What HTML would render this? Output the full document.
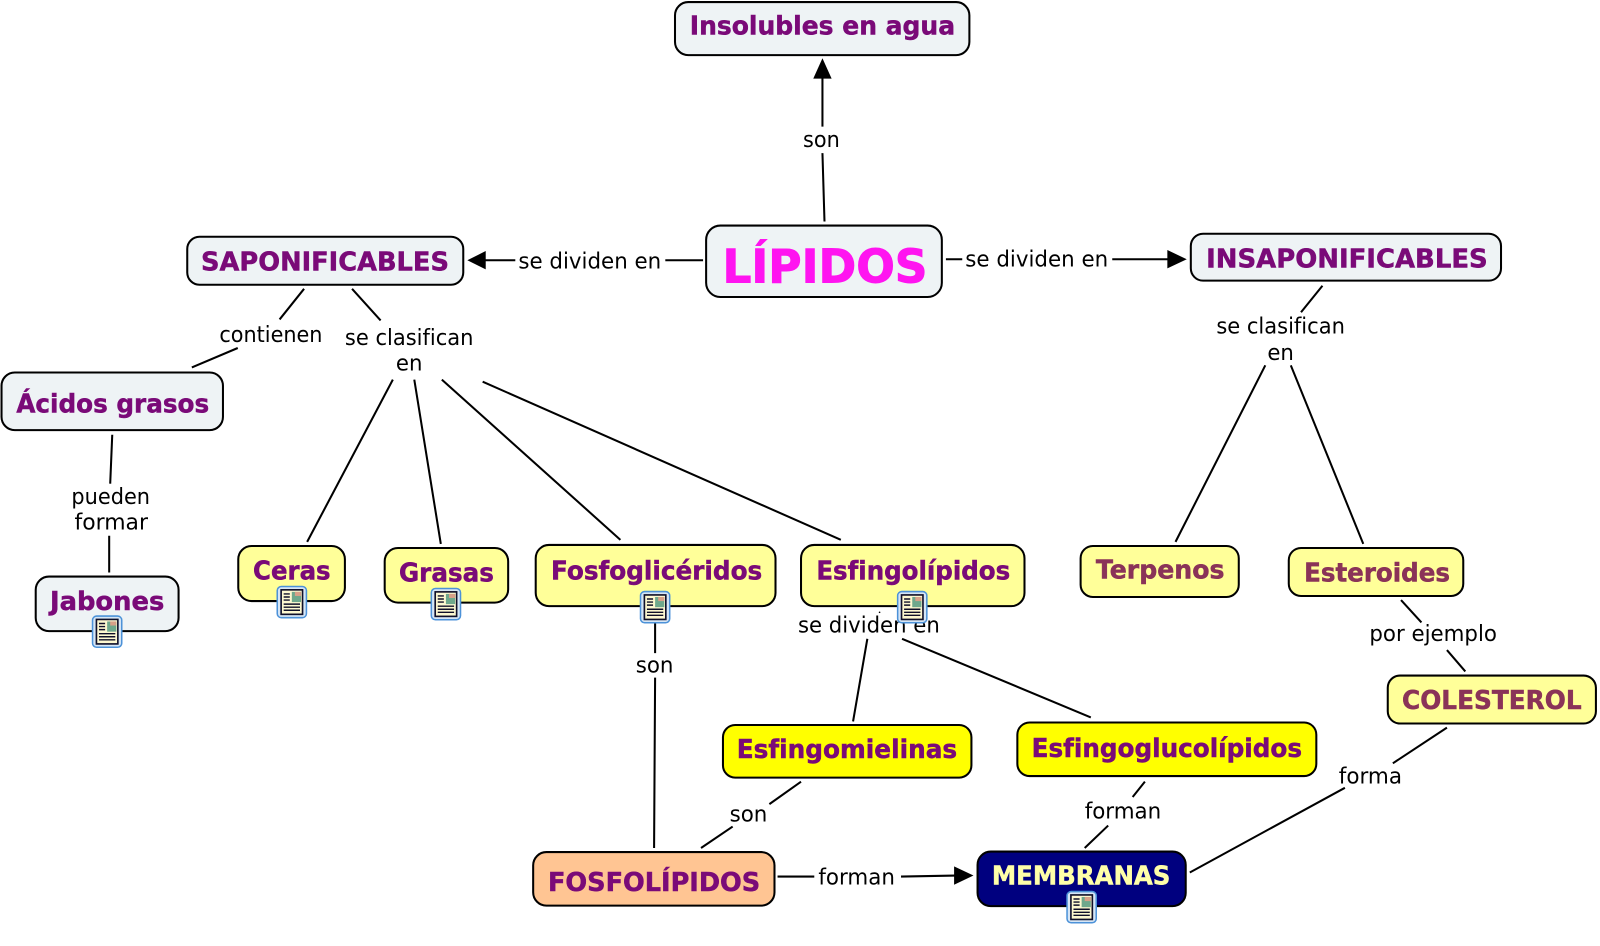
<!DOCTYPE html>
<html><head><meta charset="utf-8"><title>Lípidos</title>
<style>
html,body{margin:0;padding:0;background:#fff;width:1600px;height:946px;overflow:hidden}
svg{display:block}
text{font-variant-ligatures:none}
.n{font-family:"DejaVu Sans",sans-serif;font-weight:bold;fill:#7a0a78;stroke:#7a0a78;stroke-width:.5;font-size:25.5px}
.m{fill:#8a3358;stroke:#8a3358}
.l{font-family:"DejaVu Sans",sans-serif;fill:#000;font-size:21.5px}
.b{stroke:#000;stroke-width:2}
</style></head><body>
<svg width="1600" height="946" viewBox="0 0 1568 927" xmlns="http://www.w3.org/2000/svg">
<defs>
<symbol id="ic" viewBox="0 0 30 32" overflow="visible">
<rect x="0.7" y="0.7" width="28.6" height="30.6" rx="4" fill="#d6e6f6" stroke="#4c92d8" stroke-width="1.5"/>
<rect x="4.5" y="4" width="21" height="24" fill="#fdf8d0" stroke="#10102a" stroke-width="1.6"/>
<rect x="15" y="6" width="9" height="10" fill="#6fa88c"/>
<rect x="18" y="6" width="6" height="4" fill="#d8a088"/>
<path d="M7 8h6M7 11h6M7 14h6M7 18h16M7 21h16M7 24h16" stroke="#10102a" stroke-width="1.4" fill="none"/>
</symbol>
</defs>

<g stroke="#000" stroke-width="2" fill="none">
<path d="M808 217L806 150M806 124L806 76"/>
<path d="M689 255H652M505 255H475"/>
<path d="M927 254H943M1090 254H1146"/>
<path d="M298 283L274 313M345 283L373 314"/>
<path d="M233 341L188 360"/>
<path d="M110 426L108 474M107 525L107 561"/>
<path d="M385 372L301 531M406 372L432 533M433 372L608 529M473 374L824 529"/>
<path d="M1296 280L1275 306M1240 358L1152 531M1265 358L1336 533"/>
<path d="M1373 588L1393 610M1418 637L1436 658"/>
<path d="M1418 713L1365 748M1318 772L1166 855"/>
<path d="M642 610V640M642 664L641 831"/>
<path d="M850 626L836 707M884 626L1069 703"/>
<path d="M785 766L754 788M718 810L687 831"/>
<path d="M1122 766L1110 781M1086 809L1063 831"/>
<path d="M762 859H798M883 859L936 858"/>
</g>
<circle cx="862" cy="600" r="0.8" fill="#000"/>
<g fill="#000">
<path d="M806 57L815 77H797Z"/>
<path d="M458 255L476 246V264Z"/>
<path d="M1163 254L1144 245V263Z"/>
<path d="M954 858L935 849V867Z"/>
</g>

<g class="b">
<rect x="661.5" y="2" width="288.5" height="52" rx="13" fill="#eef3f5"/>
<rect x="692" y="221" width="231" height="70" rx="14" fill="#eef3f5"/>
<rect x="183.500" y="232" width="270.500" height="47" rx="12" fill="#eef3f5"/>
<rect x="1167" y="229" width="304" height="46" rx="12" fill="#eef3f5"/>
<rect x="1.500" y="365" width="217" height="56.500" rx="13" fill="#eef3f5"/>
<rect x="35" y="565" width="140" height="53.500" rx="13" fill="#eef3f5"/>
<rect x="233.500" y="535" width="104.500" height="54" rx="13" fill="#ffff99"/>
<rect x="377" y="537" width="121" height="53.500" rx="13" fill="#ffff99"/>
<rect x="525" y="534" width="235" height="60" rx="13" fill="#ffff99"/>
<rect x="785" y="534" width="219" height="60" rx="13" fill="#ffff99"/>
<rect x="1059" y="535" width="155" height="50" rx="12" fill="#ffff99"/>
<rect x="1263" y="537" width="171" height="47" rx="12" fill="#ffff99"/>
<rect x="1360" y="662" width="204" height="47" rx="12" fill="#ffff99"/>
<rect x="708.500" y="710.500" width="243.500" height="51.500" rx="12" fill="#ffff00"/>
<rect x="997" y="708" width="293" height="52.500" rx="12" fill="#ffff00"/>
<rect x="522.500" y="835" width="236.500" height="52.500" rx="13" fill="#ffc593"/>
<rect x="958" y="834.500" width="204" height="53.500" rx="13" fill="#00007f"/>
</g>

<text class="n" x="676" y="34" textLength="260" lengthAdjust="spacingAndGlyphs">Insolubles en agua</text>
<text class="n" x="708" y="277" style="font-size:45px;fill:#ff14f0;stroke:#ff14f0;stroke-width:.9" textLength="201" lengthAdjust="spacingAndGlyphs">LÍPIDOS</text>
<text class="n" x="197" y="265" textLength="243" lengthAdjust="spacingAndGlyphs">SAPONIFICABLES</text>
<text class="n" x="1182" y="262" textLength="276" lengthAdjust="spacingAndGlyphs">INSAPONIFICABLES</text>
<text class="n" x="16" y="404" textLength="189" lengthAdjust="spacingAndGlyphs">Ácidos grasos</text>
<text class="n" x="49" y="598" textLength="112" lengthAdjust="spacingAndGlyphs">Jabones</text>
<text class="n" x="248" y="568" textLength="76" lengthAdjust="spacingAndGlyphs">Ceras</text>
<text class="n" x="391" y="570" textLength="93" lengthAdjust="spacingAndGlyphs">Grasas</text>
<text class="n" x="540" y="568" textLength="207" lengthAdjust="spacingAndGlyphs">Fosfoglicéridos</text>
<text class="n" x="800" y="568" textLength="190" lengthAdjust="spacingAndGlyphs">Esfingolípidos</text>
<text class="n m" x="1074" y="567" textLength="126" lengthAdjust="spacingAndGlyphs">Terpenos</text>
<text class="n m" x="1278" y="570" textLength="143" lengthAdjust="spacingAndGlyphs">Esteroides</text>
<text class="n m" x="1374" y="695" textLength="176" lengthAdjust="spacingAndGlyphs">COLESTEROL</text>
<text class="n" x="722" y="743" textLength="216" lengthAdjust="spacingAndGlyphs">Esfingomielinas</text>
<text class="n" x="1011" y="742" textLength="265" lengthAdjust="spacingAndGlyphs">Esfingoglucolípidos</text>
<text class="n" x="537" y="873" textLength="208" lengthAdjust="spacingAndGlyphs">FOSFOLÍPIDOS</text>
<text class="n" x="972" y="867" style="fill:#ffffa8;stroke:#ffffa8" textLength="175" lengthAdjust="spacingAndGlyphs">MEMBRANAS</text>

<text class="l" x="787" y="144" textLength="36" lengthAdjust="spacingAndGlyphs">son</text>
<text class="l" x="508" y="263" textLength="140" lengthAdjust="spacingAndGlyphs">se dividen en</text>
<text class="l" x="946" y="261" textLength="140" lengthAdjust="spacingAndGlyphs">se dividen en</text>
<text class="l" x="215" y="335" textLength="101" lengthAdjust="spacingAndGlyphs">contienen</text>
<text class="l" x="338" y="338" textLength="126" lengthAdjust="spacingAndGlyphs">se clasifican</text>
<text class="l" x="388" y="363" textLength="26" lengthAdjust="spacingAndGlyphs">en</text>
<text class="l" x="70" y="494" textLength="77" lengthAdjust="spacingAndGlyphs">pueden</text>
<text class="l" x="73" y="519" textLength="72" lengthAdjust="spacingAndGlyphs">formar</text>
<text class="l" x="1192" y="327" textLength="126" lengthAdjust="spacingAndGlyphs">se clasifican</text>
<text class="l" x="1242" y="353" textLength="26" lengthAdjust="spacingAndGlyphs">en</text>
<text class="l" x="1342" y="628" textLength="125" lengthAdjust="spacingAndGlyphs">por ejemplo</text>
<text class="l" x="623" y="659" textLength="37" lengthAdjust="spacingAndGlyphs">son</text>
<text class="l" x="782" y="620" textLength="139" lengthAdjust="spacingAndGlyphs">se dividen en</text>
<text class="l" x="1312" y="768" textLength="62" lengthAdjust="spacingAndGlyphs">forma</text>
<text class="l" x="715" y="805" textLength="37" lengthAdjust="spacingAndGlyphs">son</text>
<text class="l" x="1063" y="802" textLength="75" lengthAdjust="spacingAndGlyphs">forman</text>
<text class="l" x="802" y="867" textLength="75" lengthAdjust="spacingAndGlyphs">forman</text>

<use href="#ic" x="90" y="603" width="30" height="32"/>
<use href="#ic" x="271" y="574" width="30" height="32"/>
<use href="#ic" x="422" y="576" width="30" height="32"/>
<use href="#ic" x="627" y="579" width="30" height="32"/>
<use href="#ic" x="879" y="579" width="30" height="32"/>
<use href="#ic" x="1045" y="873" width="30" height="32"/>
</svg>
</body></html>
